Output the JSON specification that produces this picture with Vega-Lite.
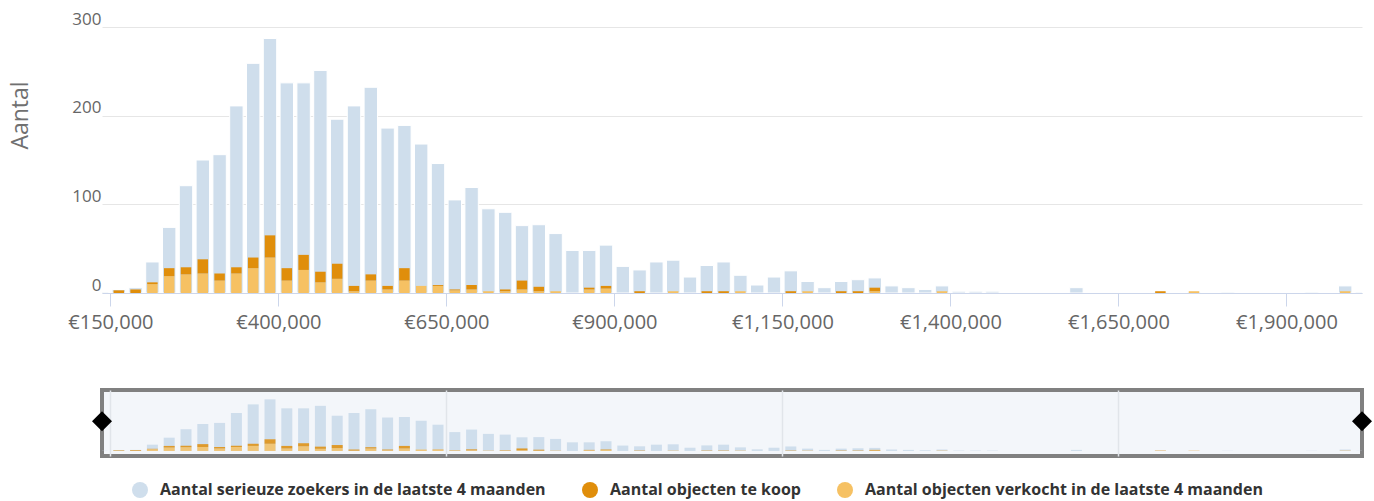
{
  "$schema": "https://vega.github.io/schema/vega-lite/v6.json",
  "background": "white",
  "padding": {"left": 9, "top": 10, "right": 0, "bottom": 14},
  "config": {
    "font": "Open Sans",
    "view": {"stroke": null},
    "axis": {"labelFont": "Open Sans", "titleFont": "Open Sans"}
  },
  "datasets": {
    "hist": [
      {"prijs": 137500, "zoekers": 1, "te_koop": 0, "verkocht": 0},
      {"prijs": 162500, "zoekers": 4, "te_koop": 3, "verkocht": 0},
      {"prijs": 187500, "zoekers": 6, "te_koop": 4, "verkocht": 0},
      {"prijs": 212500, "zoekers": 35, "te_koop": 2, "verkocht": 10},
      {"prijs": 237500, "zoekers": 74, "te_koop": 9, "verkocht": 19},
      {"prijs": 262500, "zoekers": 121, "te_koop": 8, "verkocht": 21},
      {"prijs": 287500, "zoekers": 150, "te_koop": 16, "verkocht": 22},
      {"prijs": 312500, "zoekers": 156, "te_koop": 8, "verkocht": 14},
      {"prijs": 337500, "zoekers": 211, "te_koop": 7, "verkocht": 22},
      {"prijs": 362500, "zoekers": 259, "te_koop": 12, "verkocht": 28},
      {"prijs": 387500, "zoekers": 287, "te_koop": 25, "verkocht": 40},
      {"prijs": 412500, "zoekers": 237, "te_koop": 14, "verkocht": 14},
      {"prijs": 437500, "zoekers": 237, "te_koop": 17, "verkocht": 26},
      {"prijs": 462500, "zoekers": 251, "te_koop": 12, "verkocht": 12},
      {"prijs": 487500, "zoekers": 196, "te_koop": 17, "verkocht": 16},
      {"prijs": 512500, "zoekers": 211, "te_koop": 6, "verkocht": 2},
      {"prijs": 537500, "zoekers": 232, "te_koop": 7, "verkocht": 14},
      {"prijs": 562500, "zoekers": 186, "te_koop": 4, "verkocht": 4},
      {"prijs": 587500, "zoekers": 189, "te_koop": 14, "verkocht": 14},
      {"prijs": 612500, "zoekers": 168, "te_koop": 0, "verkocht": 8},
      {"prijs": 637500, "zoekers": 146, "te_koop": 1, "verkocht": 8},
      {"prijs": 662500, "zoekers": 105, "te_koop": 1, "verkocht": 3},
      {"prijs": 687500, "zoekers": 119, "te_koop": 5, "verkocht": 4},
      {"prijs": 712500, "zoekers": 95, "te_koop": 0, "verkocht": 2},
      {"prijs": 737500, "zoekers": 91, "te_koop": 2, "verkocht": 2},
      {"prijs": 762500, "zoekers": 76, "te_koop": 10, "verkocht": 4},
      {"prijs": 787500, "zoekers": 77, "te_koop": 5, "verkocht": 2},
      {"prijs": 812500, "zoekers": 67, "te_koop": 0, "verkocht": 2},
      {"prijs": 837500, "zoekers": 48, "te_koop": 0, "verkocht": 0},
      {"prijs": 862500, "zoekers": 48, "te_koop": 2, "verkocht": 4},
      {"prijs": 887500, "zoekers": 54, "te_koop": 3, "verkocht": 5},
      {"prijs": 912500, "zoekers": 30, "te_koop": 0, "verkocht": 0},
      {"prijs": 937500, "zoekers": 26, "te_koop": 2, "verkocht": 0},
      {"prijs": 962500, "zoekers": 35, "te_koop": 0, "verkocht": 0},
      {"prijs": 987500, "zoekers": 37, "te_koop": 0, "verkocht": 2},
      {"prijs": 1012500, "zoekers": 18, "te_koop": 0, "verkocht": 0},
      {"prijs": 1037500, "zoekers": 31, "te_koop": 2, "verkocht": 0},
      {"prijs": 1062500, "zoekers": 35, "te_koop": 2, "verkocht": 0},
      {"prijs": 1087500, "zoekers": 20, "te_koop": 0, "verkocht": 2},
      {"prijs": 1112500, "zoekers": 9, "te_koop": 0, "verkocht": 0},
      {"prijs": 1137500, "zoekers": 18, "te_koop": 0, "verkocht": 0},
      {"prijs": 1162500, "zoekers": 25, "te_koop": 2, "verkocht": 0},
      {"prijs": 1187500, "zoekers": 13, "te_koop": 0, "verkocht": 2},
      {"prijs": 1212500, "zoekers": 6, "te_koop": 0, "verkocht": 0},
      {"prijs": 1237500, "zoekers": 13, "te_koop": 2, "verkocht": 0},
      {"prijs": 1262500, "zoekers": 15, "te_koop": 2, "verkocht": 0},
      {"prijs": 1287500, "zoekers": 17, "te_koop": 4, "verkocht": 2},
      {"prijs": 1312500, "zoekers": 8, "te_koop": 0, "verkocht": 0},
      {"prijs": 1337500, "zoekers": 6, "te_koop": 0, "verkocht": 0},
      {"prijs": 1362500, "zoekers": 4, "te_koop": 0, "verkocht": 0},
      {"prijs": 1387500, "zoekers": 8, "te_koop": 0, "verkocht": 2},
      {"prijs": 1412500, "zoekers": 2, "te_koop": 0, "verkocht": 0},
      {"prijs": 1437500, "zoekers": 2, "te_koop": 0, "verkocht": 0},
      {"prijs": 1462500, "zoekers": 2, "te_koop": 0, "verkocht": 0},
      {"prijs": 1587500, "zoekers": 6, "te_koop": 0, "verkocht": 0},
      {"prijs": 1712500, "zoekers": 1, "te_koop": 2, "verkocht": 0},
      {"prijs": 1762500, "zoekers": 1, "te_koop": 0, "verkocht": 2},
      {"prijs": 1812500, "zoekers": 1, "te_koop": 0, "verkocht": 0},
      {"prijs": 1937500, "zoekers": 1, "te_koop": 0, "verkocht": 0},
      {"prijs": 1987500, "zoekers": 8, "te_koop": 0, "verkocht": 2},
      {"prijs": 2012500, "zoekers": 1, "te_koop": 0, "verkocht": 0}
    ],
    "grepen": [{"rand": 137500}, {"rand": 2012500}]
  },
  "data": {"name": "hist"},
  "spacing": 56,
  "resolve": {"scale": {"x": "independent", "y": "independent"}},
  "vconcat": [
    {
      "width": 1260,
      "height": 266,
      "encoding": {
        "x": {
          "field": "prijs",
          "type": "quantitative",
          "scale": {"domain": [137500, 2012500], "nice": false, "zero": false, "padding": 0},
          "axis": {
            "title": null,
            "values": [150000, 400000, 650000, 900000, 1150000, 1400000, 1650000, 1900000],
            "labelExpr": "'€' + format(datum.value, ',')",
            "grid": false,
            "domainColor": "#ccd6eb",
            "tickColor": "#ccd6eb",
            "tickSize": 13,
            "labelFontSize": 20,
            "labelColor": "#666666",
            "labelPadding": 6,
            "labelFlush": false
          }
        }
      },
      "layer": [
        {
          "transform": [{"fold": ["zoekers"], "as": ["reeks", "aantal"]}],
          "mark": {"type": "bar", "width": 13.4, "stroke": "white", "strokeWidth": 1, "clip": true},
          "encoding": {
            "y": {
              "field": "aantal",
              "type": "quantitative",
              "scale": {"domain": [0, 300], "nice": false},
              "axis": {
                "title": "Aantal",
                "titleFontSize": 23,
                "titleFontWeight": "normal",
                "titleColor": "#707070",
                "titleAngle": 270,
                "titleBaseline": "alphabetic",
                "titleAlign": "center",
                "titleX": -75,
                "titleY": 88,
                "values": [0, 100, 200, 300],
                "grid": true,
                "gridColor": "#e6e6e6",
                "domain": false,
                "ticks": false,
                "labelFontSize": 17,
                "labelColor": "#666666",
                "labelPadding": 1,
                "labelBaseline": "alphabetic",
                "labelOffset": -3,
                "labelAlign": "right"
              }
            },
            "color": {
              "field": "reeks",
              "type": "nominal",
              "scale": {"domain": ["zoekers", "te_koop", "verkocht"], "range": ["#cfdeec", "#e08e0b", "#f6c163"]},
              "legend": {
                "title": null,
                "orient": "none",
                "legendX": 30,
                "legendY": 455,
                "direction": "horizontal",
                "symbolType": "circle",
                "symbolSize": 256,
                "symbolStrokeWidth": 0,
                "symbolOpacity": 1,
                "labelFontSize": 16,
                "labelFontWeight": "bold",
                "labelColor": "#333333",
                "labelLimit": 0,
                "labelOffset": 12,
                "columnPadding": 36,
                "padding": 0,
                "labelExpr": "datum.label == 'zoekers' ? 'Aantal serieuze zoekers in de laatste 4 maanden' : datum.label == 'te_koop' ? 'Aantal objecten te koop' : 'Aantal objecten verkocht in de laatste 4 maanden'"
              }
            }
          }
        },
        {
          "transform": [{"fold": ["verkocht", "te_koop"], "as": ["reeks", "aantal"]}],
          "mark": {"type": "bar", "width": 10.5, "clip": true},
          "encoding": {
            "y": {"field": "aantal", "type": "quantitative", "stack": "zero"},
            "color": {"field": "reeks", "type": "nominal"},
            "order": {"field": "reeks", "sort": "descending"}
          }
        }
      ]
    },
    {
      "width": 1260,
      "height": 66,
      "view": {"stroke": "#808080", "strokeWidth": 4, "fill": "#f3f6fa"},
      "encoding": {
        "x": {
          "field": "prijs",
          "type": "quantitative",
          "scale": {"domain": [137500, 2012500], "nice": false, "zero": false, "padding": 0},
          "axis": {
            "title": null,
            "values": [150000, 650000, 1150000, 1650000],
            "grid": true,
            "gridColor": "#e1e5ea",
            "gridWidth": 1.5,
            "labels": false,
            "ticks": false,
            "domain": false
          }
        }
      },
      "layer": [
        {
          "mark": {"type": "bar", "width": 11, "clip": true, "color": "#cfdeec"},
          "encoding": {
            "y": {"field": "zoekers", "type": "quantitative", "scale": {"domain": [-28, 339], "nice": false, "zero": false}, "axis": null},
            "y2": {"datum": 0}
          }
        },
        {
          "transform": [
            {"fold": ["verkocht", "te_koop"], "as": ["reeks", "aantal"]},
            {"stack": "aantal", "groupby": ["prijs"], "sort": [{"field": "reeks", "order": "descending"}], "as": ["v0", "v1"]}
          ],
          "mark": {"type": "bar", "width": 11, "clip": true, "opacity": 0.85},
          "encoding": {
            "y": {"field": "v1", "type": "quantitative"},
            "y2": {"field": "v0"},
            "color": {"condition": {"test": "datum.reeks == 'te_koop'", "value": "#e08e0b"}, "value": "#f6c163"}
          }
        },
        {
          "data": {"name": "grepen"},
          "mark": {"type": "point", "shape": "diamond", "filled": true, "size": 400, "color": "#000000", "opacity": 1, "clip": false},
          "encoding": {
            "x": {"field": "rand", "type": "quantitative"},
            "y": {"datum": 165}
          }
        }
      ]
    }
  ]
}
